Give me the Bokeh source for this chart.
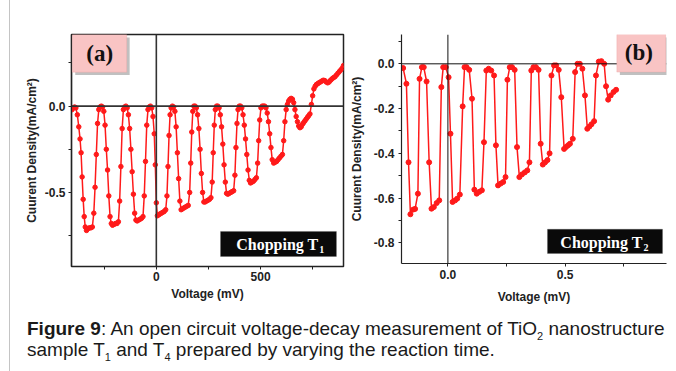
from bokeh.plotting import figure
from bokeh.models import Range1d, FixedTicker, Span, Label, Div, BoxAnnotation
from bokeh.layouts import row, column
from bokeh.embed import file_html
from bokeh.resources import INLINE

# ---------------- data: panel (a) ----------------
va_x = [-404, -398, -392, -386, -379, -372, -366, -361, -356, -351, -346, -341, -335, -328, -321, -314, -307, -300, -294, -288, -282,
        -276, -270, -264, -258, -252, -246, -240, -234, -228, -222, -216, -210, -203, -196, -189, -182, -176, -170, -164,
        -158, -152, -146, -140, -134, -128, -122, -116, -110, -104, -98, -92, -85, -78, -71, -64, -58, -52, -46,
        -40, -34, -28, -22, -16, -10, -5, 0, 5, 11, 17, 24, 31, 38, 45, 51, 56, 61, 66,
        71, 77, 83, 89, 95, 101, 107, 113, 119, 125, 132, 139, 146, 153, 160, 165, 170, 175,
        180, 186, 192, 198, 204, 210, 216, 222, 228, 234, 241, 248, 255, 262, 268, 273, 278, 283,
        289, 295, 301, 307, 313, 319, 325, 331, 337, 343, 350, 357, 364, 371, 377, 382, 387, 392,
        398, 404, 410, 416, 422, 428, 434, 440, 446, 452, 459, 466, 473, 480, 486, 491, 496, 502,
        508, 514, 520, 526, 532, 538, 544, 550, 556, 563, 570, 577, 584, 591, 598, 605, 611, 617, 623,
        629, 635, 641, 647, 653, 659, 665, 671, 677, 683, 689, 695, 701, 707, 713, 719, 725, 731, 737,
        744, 750, 756, 762, 768, 774, 780, 787, 794, 801, 808, 815, 822, 829, 836, 843, 850, 857, 864, 871, 878, 885, 892, 898]
ja_y = [-0.02, -0.01, -0.005, -0.01, -0.05, -0.12, -0.19, -0.27, -0.41, -0.54, -0.64, -0.70, -0.72, -0.71, -0.705, -0.705, -0.70, -0.62, -0.47, -0.28, -0.10,
        -0.02, -0.005, 0.0, -0.005, -0.03, -0.11, -0.25, -0.37, -0.52, -0.64, -0.68, -0.69, -0.685, -0.68, -0.68, -0.67, -0.55, -0.35, -0.13,
        -0.02, -0.005, 0.0, -0.01, -0.05, -0.13, -0.25, -0.38, -0.51, -0.62, -0.66, -0.665, -0.66, -0.655, -0.65, -0.64, -0.52, -0.32, -0.11,
        -0.02, -0.005, 0.0, -0.01, -0.06, -0.16, -0.34, -0.56, -0.635, -0.63, -0.625, -0.62, -0.615, -0.61, -0.60, -0.52, -0.35, -0.17, -0.05,
        -0.01, 0.0, -0.005, -0.03, -0.12, -0.27, -0.42, -0.55, -0.60, -0.595, -0.59, -0.585, -0.58, -0.575, -0.50, -0.33, -0.15, -0.03,
        0.0, 0.0, -0.01, -0.05, -0.13, -0.25, -0.39, -0.50, -0.555, -0.555, -0.55, -0.545, -0.54, -0.53, -0.44, -0.27, -0.11, -0.02,
        0.0, 0.0, -0.01, -0.05, -0.12, -0.22, -0.34, -0.44, -0.505, -0.51, -0.505, -0.50, -0.495, -0.49, -0.40, -0.24, -0.10, -0.02,
        0.0, 0.0, -0.01, -0.05, -0.11, -0.19, -0.28, -0.37, -0.43, -0.445, -0.44, -0.435, -0.425, -0.415, -0.33, -0.20, -0.08, -0.01,
        0.0, 0.0, 0.0, -0.01, -0.04, -0.09, -0.16, -0.24, -0.31, -0.33, -0.325, -0.32, -0.31, -0.30, -0.29, -0.28, -0.20, -0.09, -0.02,
        0.01, 0.03, 0.04, 0.045, 0.04, 0.02, -0.02, -0.06, -0.09, -0.115, -0.125, -0.12, -0.105, -0.095, -0.085, -0.075, -0.065, -0.055, -0.045,
        0.01, 0.06, 0.10, 0.115, 0.125, 0.13, 0.135, 0.14, 0.145, 0.15, 0.148, 0.14, 0.135, 0.14, 0.15, 0.158, 0.165, 0.17, 0.18, 0.19, 0.20, 0.21, 0.22, 0.235]

# ---------------- data: panel (b) ----------------
vb_x = [-0.191, -0.177, -0.168, -0.160, -0.148, -0.140, -0.128, -0.121, -0.111, -0.103, -0.091, -0.080, -0.070, -0.060, -0.048,
        -0.037, -0.028, -0.020, -0.009, 0.003, 0.011, 0.020, 0.031, 0.040, 0.051, 0.063, 0.071, 0.080, 0.091, 0.103, 0.113,
        0.123, 0.134, 0.145, 0.154, 0.164, 0.174, 0.185, 0.197, 0.205, 0.214, 0.225, 0.236, 0.246, 0.254, 0.264, 0.274,
        0.285, 0.295, 0.305, 0.316, 0.328, 0.339, 0.348, 0.356, 0.365, 0.376, 0.387, 0.396, 0.405, 0.415, 0.425, 0.434,
        0.442, 0.453, 0.462, 0.473, 0.484, 0.496, 0.504, 0.513, 0.521, 0.533, 0.543, 0.553, 0.563, 0.574, 0.585, 0.595,
        0.604, 0.613, 0.624, 0.632, 0.644, 0.655, 0.667, 0.675, 0.684, 0.695, 0.707, 0.718]
jb_y = [-0.019, -0.089, -0.44, -0.672, -0.651, -0.648, -0.58, -0.067, -0.015, -0.015, -0.079, -0.44, -0.647, -0.64, -0.622,
        -0.61, -0.104, -0.015, -0.015, -0.06, -0.312, -0.617, -0.61, -0.602, -0.584, -0.19, -0.015, -0.015, -0.027, -0.156, -0.562,
        -0.58, -0.572, -0.565, -0.35, -0.03, -0.022, -0.03, -0.052, -0.364, -0.543, -0.535, -0.528, -0.506, -0.071, -0.015, -0.015,
        -0.027, -0.372, -0.506, -0.494, -0.485, -0.476, -0.44, -0.03, -0.015, -0.015, -0.027, -0.357, -0.45, -0.44, -0.43, -0.40,
        -0.052, -0.007, -0.007, -0.027, -0.149, -0.38, -0.372, -0.364, -0.357, -0.335, -0.037, 0.0, 0.0, -0.022, -0.141, -0.29,
        -0.28, -0.27, -0.256, -0.052, 0.01, 0.012, 0.0, -0.10, -0.16, -0.141, -0.126, -0.116]

# ---------------- ticks ----------------
xa_ticks = [-250, 0, 250, 500, 750]
xa_labels = ["", "0", "", "500", ""]
ya_ticks = [-0.75, -0.5, -0.25, 0.0, 0.25]
ya_labels = ["", "-0.5", "", "0.0", ""]
xb_ticks = [0.0, 0.25, 0.5, 0.75]
xb_labels = ["0.0", "", "0.5", ""]
yb_ticks = [-0.8, -0.7, -0.6, -0.5, -0.4, -0.3, -0.2, -0.1, 0.0, 0.1]
yb_labels = ["-0.8", "", "-0.6", "", "-0.4", "", "-0.2", "", "0.0", ""]

FONT = "Liberation Sans"
SERIF = "Liberation Serif"
RED = "#ff1a1a"


def style_axes(p, xt, xl, yt, yl):
    for ax, t, l in ((p.xaxis[0], xt, xl), (p.yaxis[0], yt, yl)):
        ax.ticker = FixedTicker(ticks=t, minor_ticks=[])
        ax.major_label_overrides = dict(zip(t, l))
        ax.major_tick_out = 3
        ax.major_tick_in = 0
        ax.major_tick_line_color = "#222222"
        ax.axis_line_color = "#222222"
        ax.axis_line_width = 1.2
        ax.major_label_text_font = FONT
        ax.major_label_text_font_style = "bold"
        ax.major_label_text_font_size = "12px"
        ax.major_label_text_color = "#222222"
        ax.axis_label_text_font = FONT
        ax.axis_label_text_font_style = "bold"
        ax.axis_label_text_font_size = "12px"
        ax.axis_label_text_color = "#222222"
    p.grid.visible = False
    p.background_fill_color = "white"
    p.border_fill_color = "white"


# ---------------- panel (a) ----------------
pa = figure(frame_width=272, frame_height=232, min_border_left=61, min_border_right=2,
            min_border_top=32, min_border_bottom=46,
            x_range=Range1d(-407, 898), y_range=Range1d(-0.929, 0.415),
            output_backend="svg", toolbar_location=None)
style_axes(pa, xa_ticks, xa_labels, ya_ticks, ya_labels)
pa.xaxis.axis_label = "Voltage (mV)"
pa.yaxis.axis_label = "Cuurent Density(mA/cm²)"
pa.xaxis.major_label_standoff = 2
pa.xaxis.axis_label_standoff = 3
pa.yaxis.major_label_standoff = 3
pa.yaxis.axis_label_standoff = 3
pa.outline_line_color = "#222222"
pa.outline_line_width = 1.5
pa.outline_line_alpha = 1.0
pa.add_layout(Span(location=0, dimension="height", line_color="#333333", line_width=1.6))
pa.add_layout(Span(location=0, dimension="width", line_color="#333333", line_width=1.6))
pa.line(va_x, ja_y, line_color=RED, line_width=1.5)
pa.scatter(va_x, ja_y, size=4.5, fill_color=RED, line_color=RED)

pa.add_layout(BoxAnnotation(left=-389, right=-128, top=0.398, bottom=0.18,
                            fill_color="#b0b0b0", fill_alpha=0.8, line_alpha=0))
pa.add_layout(BoxAnnotation(left=-403, right=-142, top=0.415, bottom=0.197,
                            fill_color="#f9c4c4", fill_alpha=1.0, line_color="#e99a9a", line_width=1))
pa.add_layout(Label(x=-272, y=0.303, text="(a)", text_font=SERIF, text_font_style="bold",
                    text_font_size="23px", text_align="center", text_baseline="middle", text_color="#111111"))
pa.add_layout(BoxAnnotation(left=308, right=864, top=-0.726, bottom=-0.871,
                            fill_color="#0a0a0a", fill_alpha=1.0, line_color="#555555", line_width=1))
pa.add_layout(Label(x=778, y=-0.80, text="Chopping T", text_font=SERIF, text_font_style="bold",
                    text_font_size="16px", text_align="right", text_baseline="middle", text_color="white"))
pa.add_layout(Label(x=782, y=-0.83, text="1", text_font=SERIF, text_font_style="bold",
                    text_font_size="10px", text_align="left", text_baseline="middle", text_color="white"))

# ---------------- panel (b) ----------------
pb = figure(frame_width=265, frame_height=229, min_border_left=56, min_border_right=10,
            min_border_top=34, min_border_bottom=47,
            x_range=Range1d(-0.198, 0.933), y_range=Range1d(-0.892, 0.131),
            output_backend="svg", toolbar_location=None)
style_axes(pb, xb_ticks, xb_labels, yb_ticks, yb_labels)
pb.xaxis.axis_label = "Voltage (mV)"
pb.yaxis.axis_label = "Cuurent Density(mA/cm²)"
pb.xaxis.major_label_standoff = 3
pb.xaxis.axis_label_standoff = 8
pb.yaxis.major_label_standoff = 4
pb.yaxis.axis_label_standoff = 7
pb.outline_line_color = None
pb.add_layout(Span(location=0, dimension="height", line_color="#111111", line_width=1))
pb.add_layout(Span(location=0, dimension="width", line_color="#111111", line_width=1))
pb.line(vb_x, jb_y, line_color=RED, line_width=1.5)
pb.scatter(vb_x, jb_y, size=5, fill_color=RED, line_color=RED)

pb.add_layout(BoxAnnotation(left=0.734, right=0.95, top=0.118, bottom=-0.05,
                            fill_color="#b0b0b0", fill_alpha=0.8, line_alpha=0))
pb.add_layout(BoxAnnotation(left=0.721, right=0.93, top=0.131, bottom=-0.037,
                            fill_color="#f9c4c4", fill_alpha=1.0, line_color="#e99a9a", line_width=1))
pb.add_layout(Label(x=0.815, y=0.049, text="(b)", text_font=SERIF, text_font_style="bold",
                    text_font_size="23px", text_align="center", text_baseline="middle", text_color="#111111"))
pb.add_layout(BoxAnnotation(left=0.425, right=0.916, top=-0.739, bottom=-0.847,
                            fill_color="#0a0a0a", fill_alpha=1.0, line_color="#555555", line_width=1))
pb.add_layout(Label(x=0.831, y=-0.796, text="Chopping T", text_font=SERIF, text_font_style="bold",
                    text_font_size="16px", text_align="right", text_baseline="middle", text_color="white"))
pb.add_layout(Label(x=0.835, y=-0.82, text="2", text_font=SERIF, text_font_style="bold",
                    text_font_size="10px", text_align="left", text_baseline="middle", text_color="white"))

# ---------------- caption and page border ----------------
SUB = '<sub style="font-size:11px;line-height:0">'
caption = Div(text='<b>Figure 9</b>: An open circuit voltage-decay measurement of TiO' + SUB + '2</sub> nanostructure<br>'
                   'sample T' + SUB + '1</sub> and T' + SUB + '4</sub> prepared by varying the reaction time.',
              width=666, height=61, margin=(0, 0, 0, 0),
              styles={"font-family": "Liberation Sans, Arial, sans-serif", "font-size": "19px",
                      "line-height": "21px", "color": "#1a1a1a", "padding-left": "17px",
                      "padding-top": "8px", "white-space": "nowrap"})
border = Div(text="", width=1, height=371, margin=(0, 0, 0, 9),
             styles={"background-color": "#c4c4c4"})

layout = row(border, column(row(pa, pb, spacing=0), caption, spacing=0), spacing=0)

open("out.html", "w").write(file_html(layout, INLINE))
